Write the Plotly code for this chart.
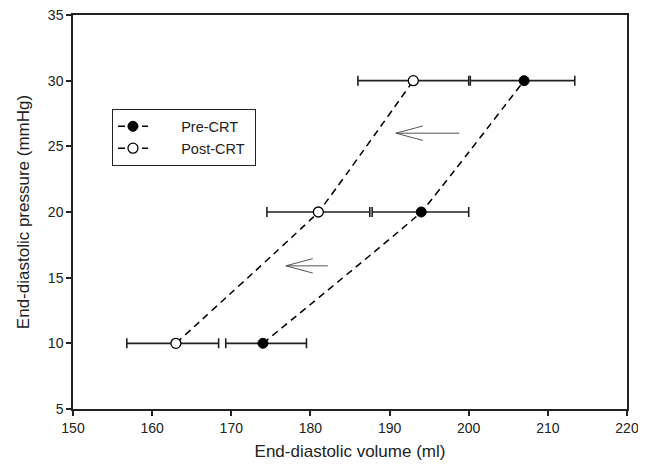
import plotly.graph_objects as go

# Data
pressure = [10, 20, 30]
pre_volume = [174, 194, 207]
pre_err_plus = [5.5, 6.0, 6.4]
pre_err_minus = [4.7, 6.2, 6.8]
post_volume = [163, 181, 193]
post_err_plus = [5.4, 6.5, 7.0]
post_err_minus = [6.2, 6.5, 7.0]

# Arrows (tail x, tip x, y)
arrow_tail_x = [198.8, 182.2]
arrow_tip_x = [190.8, 176.9]
arrow_y = [26.0, 15.9]
head_dx = 3.4
head_dy = 0.55

x_ticks = [150, 160, 170, 180, 190, 200, 210, 220]
y_ticks = [5, 10, 15, 20, 25, 30, 35]

series_names = ["Pre-CRT", "Post-CRT"]

FONT = "Arial, Liberation Sans, sans-serif"
PAD_L = "\u00a0" * 7
PAD_R = "\u00a0" * 1

# The page body has an 8px default margin; size the figure so the plot
# lands where the 646x465 reference has it.
BODY = 8

fig = go.Figure()

fig.add_trace(go.Scatter(
    x=pre_volume, y=pressure, name=PAD_L + series_names[0] + PAD_R, mode="lines+markers",
    line=dict(color="black", width=1.5, dash="7px,5px", shape="spline", smoothing=0.2),
    marker=dict(symbol="circle", size=10, color="black", line=dict(color="black", width=1)),
    error_x=dict(type="data", symmetric=False, array=pre_err_plus, arrayminus=pre_err_minus,
                 color="#222222", thickness=1.6, width=5),
))
fig.add_trace(go.Scatter(
    x=post_volume, y=pressure, name=PAD_L + series_names[1] + PAD_R, mode="lines+markers",
    line=dict(color="black", width=1.5, dash="7px,5px", shape="spline", smoothing=0.2),
    marker=dict(symbol="circle", size=10, color="white", line=dict(color="black", width=1.3)),
    error_x=dict(type="data", symmetric=False, array=post_err_plus, arrayminus=post_err_minus,
                 color="#222222", thickness=1.6, width=5),
))

shapes = []
for tx, hx, yy in zip(arrow_tail_x, arrow_tip_x, arrow_y):
    ln = dict(color="#555555", width=1)
    shapes.append(dict(type="line", xref="x", yref="y", x0=tx, y0=yy, x1=hx, y1=yy, line=ln))
    shapes.append(dict(type="line", xref="x", yref="y", x0=hx, y0=yy, x1=hx + head_dx, y1=yy + head_dy, line=ln))
    shapes.append(dict(type="line", xref="x", yref="y", x0=hx, y0=yy, x1=hx + head_dx, y1=yy - head_dy, line=ln))

axis_common = dict(
    showgrid=False, zeroline=False, showline=True, linecolor="#222222", linewidth=1.5,
    mirror=True, ticks="outside", ticklen=5, tickwidth=1.5, tickcolor="#222222",
    tickfont=dict(family=FONT, size=14, color="#222222"), automargin=False,
    ticklabeloverflow="allow",
)

fig.update_layout(
    width=646 - BODY, height=465 - BODY,
    margin=dict(l=73 - BODY, r=19, t=15 - BODY, b=56, autoexpand=False),
    paper_bgcolor="white", plot_bgcolor="white",
    font=dict(family=FONT, color="#222222"),
    shapes=shapes,
    xaxis=dict(range=[150, 220], tickvals=x_ticks, ticktext=[str(v) for v in x_ticks],
               title=dict(text="End-diastolic volume (ml)", font=dict(family=FONT, size=17), standoff=11),
               **axis_common),
    yaxis=dict(range=[5, 35], tickvals=y_ticks, ticktext=[str(v) for v in y_ticks],
               title=dict(text="End-diastolic pressure (mmHg)", font=dict(family=FONT, size=17), standoff=14),
               **axis_common),
    legend=dict(x=0.07, y=0.761, xanchor="left", yanchor="top",
                bordercolor="#222222", borderwidth=1.2, bgcolor="white",
                font=dict(family=FONT, size=14.5, color="#222222"),
                tracegroupgap=0),
    showlegend=True,
)

fig.write_html("out.html")
